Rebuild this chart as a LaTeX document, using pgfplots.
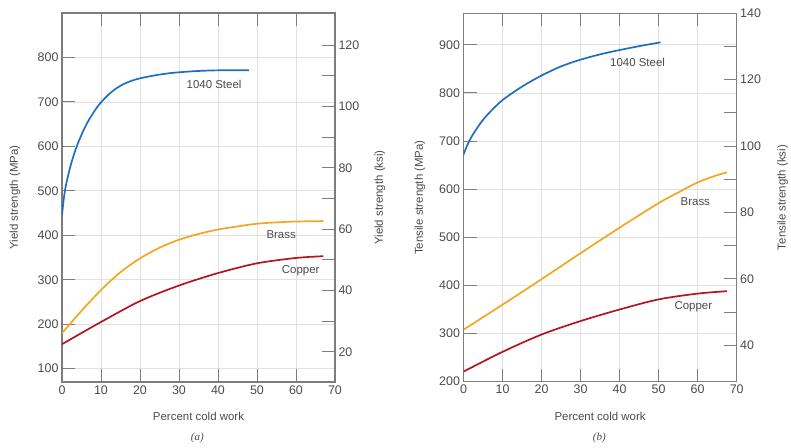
\documentclass[border=0pt]{standalone}
\usepackage{pgfplots}
\pgfplotsset{compat=1.18}
\usepackage{fontspec}
\setmainfont{Liberation Sans}
\newfontfamily\capfont{Liberation Serif}
\definecolor{steel}{RGB}{30,110,190}
\definecolor{brass}{RGB}{245,165,30}
\definecolor{copper}{RGB}{180,20,30}
\definecolor{axgray}{RGB}{125,125,125}
\definecolor{gridgray}{RGB}{225,225,225}
\definecolor{txt}{RGB}{75,75,75}
\tikzset{lab/.style={font=\fontsize{11.5}{13}\selectfont, text=txt}}
\pgfplotsset{
  base/.style={scale only axis, xmin=0, xmax=70,
    /pgf/number format/assume math mode=true,
    tick label style={font=\fontsize{12.5}{14}\selectfont, text=txt},
    major tick length=13bp, minor tick length=13bp,
    tick align=inside,
    every tick/.style={axgray, line width=0.9pt},
    axis line style={axgray, line width=1.3pt},
    grid style={gridgray, line width=0.7pt},
  },
  leftax/.style={base, xtick={0,10,...,70}, grid=major,
    xtick pos=both, xticklabel pos=lower, ytick pos=left,
    every axis x label/.style={at={(axis description cs:0.5,0)}, anchor=center, yshift=-34.7bp,
       font=\fontsize{11.5}{13}\selectfont, text=txt},
    every axis y label/.style={at={(axis description cs:0,0.5)}, xshift=-#1bp, rotate=90, anchor=center,
       font=\fontsize{11.5}{13}\selectfont, text=txt},
    xlabel={Percent cold work},
  },
  rightax/.style={base, axis x line=none, axis y line*=right, ytick pos=right,
    every axis y label/.style={at={(axis description cs:1,0.5)}, xshift=#1bp, rotate=90, anchor=center,
       font=\fontsize{11.5}{13}\selectfont, text=txt},
  },
  curve/.style={smooth, line width=1.7pt, no marks},
}
\begin{document}
\begin{tikzpicture}
\useasboundingbox (0bp,0bp) rectangle (791bp,448bp);
% ---------------- (a) ----------------
\begin{axis}[leftax=47, at={(62bp,66bp)}, anchor=south west, width=273bp, height=369bp,
  ymin=70, ymax=900, ytick={100,200,...,800}, ylabel={Yield strength (MPa)}]
\addplot[curve, steel] coordinates {(0,445) (0.5,485) (1,512) (2,550) (3,580) (4,605) (5,626) (6,645) (7,661) (8,675) (9,688) (10,699) (12,717) (14,731) (16,741) (18,748) (20,753) (24,760) (28,765) (32,768) (36,770) (40,771) (48,771)};
\addplot[curve, brass] coordinates {(0,180) (5,230) (10,277) (15,317) (20,348) (25,372) (30,390) (35,403) (40,413) (45,420) (50,426) (55,429) (60,431) (67,432)};
\addplot[curve, copper] coordinates {(0,155) (10,205) (20,252) (30,287) (40,315) (50,337) (60,349) (67,353)};
\node[lab] at (axis cs:39,739) {1040 Steel};
\node[lab] at (axis cs:56.2,402) {Brass};
\node[lab] at (axis cs:61.2,320) {Copper};
\end{axis}
\begin{axis}[rightax=45, at={(62bp,66bp)}, anchor=south west, width=273bp, height=369bp,
  ymin=10.152, ymax=130.53, ytick={20,40,...,120}, minor ytick={30,50,...,110},
  ylabel={Yield strength (ksi)}]
\end{axis}
% ---------------- (b) ----------------
\begin{axis}[leftax=43.5, at={(463.5bp,66.3bp)}, anchor=south west, width=273.2bp, height=368.4bp,
  ymin=200, ymax=965.3, ytick={200,300,...,900}, ylabel={Tensile strength (MPa)}]
\addplot[curve, steel] coordinates {(0,672) (1,692) (2,708) (3,721) (4,733) (5,744) (7,762) (10,785) (15,813) (20,836) (25,855) (30,869) (35,880) (40,889) (45,897) (50.5,905)};
\addplot[curve, brass] coordinates {(0,308) (10,360) (20,413) (30,467) (40,520) (50,571) (55,593) (60,614) (65,629) (67.5,635)};
\addplot[curve, copper] coordinates {(0,221) (10,262) (20,298) (30,326) (40,350) (50,371) (60,383) (67.5,388)};
\node[lab] at (axis cs:44.6,863) {1040 Steel};
\node[lab] at (axis cs:59.4,574) {Brass};
\node[lab] at (axis cs:58.9,355) {Copper};
\end{axis}
\begin{axis}[rightax=46, at={(463.5bp,66.3bp)}, anchor=south west, width=273.2bp, height=368.4bp,
  ymin=29.006, ymax=140, ytick={40,60,...,140}, minor ytick={50,70,...,130},
  ylabel={Tensile strength (ksi)}]
\end{axis}
% captions
\node[font=\capfont\itshape\fontsize{11}{13}\selectfont, text=txt] at (197.3bp,10bp) {(a)};
\node[font=\capfont\itshape\fontsize{11}{13}\selectfont, text=txt] at (599.3bp,10bp) {(b)};
\end{tikzpicture}
\end{document}
